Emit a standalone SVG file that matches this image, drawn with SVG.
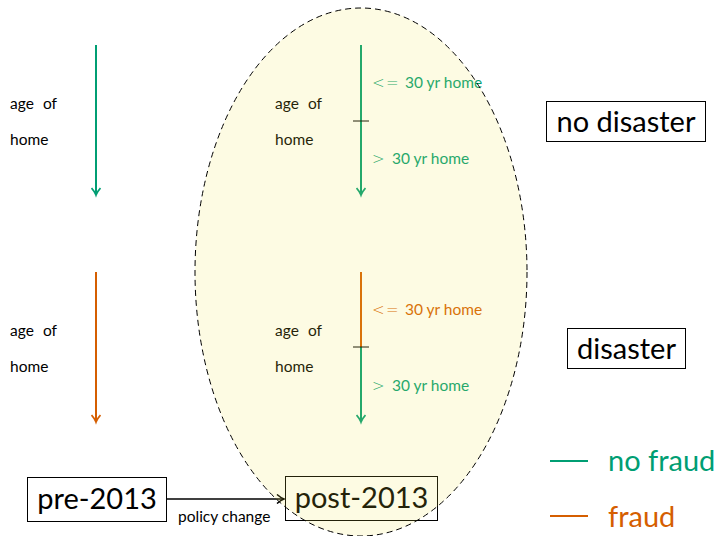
<svg xmlns="http://www.w3.org/2000/svg" width="716" height="536" viewBox="0 0 716 536">
<defs>
<marker id="ag" viewBox="0 0 12 10" refX="8" refY="5" markerWidth="12" markerHeight="10" markerUnits="userSpaceOnUse" orient="auto"><path d="M1,0.5 Q5,4 8,5 Q5,6 1,9.5" fill="none" stroke="#009E73" stroke-width="1.8"/></marker>
<marker id="ao" viewBox="0 0 12 10" refX="8" refY="5" markerWidth="12" markerHeight="10" markerUnits="userSpaceOnUse" orient="auto"><path d="M1,0.5 Q5,4 8,5 Q5,6 1,9.5" fill="none" stroke="#D55E00" stroke-width="1.8"/></marker>
<marker id="ak" viewBox="0 0 12 10" refX="8" refY="5" markerWidth="12" markerHeight="10" markerUnits="userSpaceOnUse" orient="auto"><path d="M1,0.5 Q5,4 8,5 Q5,6 1,9.5" fill="none" stroke="#000" stroke-width="1.5"/></marker>
</defs>
<style>
text{font-family:Lato,"Open Sans","Liberation Sans",sans-serif}
.s{font-size:15.5px;fill:#000}
.g{stroke:#009E73;stroke-width:2;fill:none}
.o{stroke:#D55E00;stroke-width:2;fill:none}
.gt{font-size:15.5px;fill:#009E73}
.ot{font-size:15.5px;fill:#D55E00}
.m{font-family:"DejaVu Sans",sans-serif;font-size:15px;font-weight:200}
.big{font-size:29px;fill:#000}
.box{fill:#fff;stroke:#000;stroke-width:1}
.tick{stroke:#000;stroke-width:1}
</style>
<rect width="716" height="536" fill="#fff"/>
<g id="connectors">
<line class="g" x1="96" y1="45" x2="96" y2="195" marker-end="url(#ag)"/>
<line class="o" x1="96" y1="272" x2="96" y2="422" marker-end="url(#ao)"/>
<line class="g" x1="361" y1="45" x2="361" y2="195" marker-end="url(#ag)"/>
<line class="tick" x1="353" y1="121" x2="369" y2="121"/>
<line class="o" x1="361" y1="272" x2="361" y2="347"/>
<line class="g" x1="361" y1="347" x2="361" y2="422" marker-end="url(#ag)"/>
<line class="tick" x1="353" y1="347" x2="369" y2="347"/>
<line x1="166" y1="499" x2="284" y2="499" stroke="#000" stroke-width="1.6" marker-end="url(#ak)"/>
</g>
<g id="labels-left">
<text class="s" x="10" y="109">age<tspan x="43">of</tspan></text>
<text class="s" x="10" y="145">home</text>
<text class="s" x="10" y="336">age<tspan x="43">of</tspan></text>
<text class="s" x="10" y="372">home</text>
</g>
<g id="labels-mid">
<text class="s" x="275" y="109">age<tspan x="308">of</tspan></text>
<text class="s" x="275" y="145">home</text>
<text class="s" x="275" y="336">age<tspan x="308">of</tspan></text>
<text class="s" x="275" y="372">home</text>
<text class="gt" x="372" y="88"><tspan class="m">&lt;</tspan><tspan class="m" x="386">=</tspan><tspan x="405">30 yr home</tspan></text>
<text class="gt" x="372" y="164"><tspan class="m">&gt;</tspan><tspan x="392">30 yr home</tspan></text>
<text class="ot" x="372" y="315"><tspan class="m">&lt;</tspan><tspan class="m" x="386">=</tspan><tspan x="405">30 yr home</tspan></text>
<text class="gt" x="372" y="391"><tspan class="m">&gt;</tspan><tspan x="392">30 yr home</tspan></text>
</g>
<g id="no-disaster">
<rect class="box" x="546.5" y="101.5" width="159" height="40"/>
<text class="big" x="626" y="132" text-anchor="middle">no disaster</text>
</g>
<g id="disaster">
<rect class="box" x="567.5" y="328.5" width="118" height="40"/>
<text class="big" x="626.5" y="359" text-anchor="middle">disaster</text>
</g>
<g id="pre-2013">
<rect class="box" x="27.5" y="477.5" width="139" height="44"/>
<text class="big" x="97" y="509" text-anchor="middle">pre-2013</text>
</g>
<g id="post-2013">
<rect class="box" x="285.5" y="476.5" width="152" height="44"/>
<text class="big" x="361.5" y="508" text-anchor="middle">post-2013</text>
</g>
<text class="s" x="178" y="522">policy change</text>
<g id="ellipse">
<ellipse cx="361" cy="272" rx="166" ry="264" fill="#F0E442" fill-opacity="0.15" stroke="#000" stroke-width="1" stroke-dasharray="6,4"/>
</g>
<g id="legend">
<line class="g" x1="550" y1="461" x2="588" y2="461"/>
<text x="608" y="471" style="font-size:29px;fill:#009E73">no fraud</text>
<line class="o" x1="550" y1="516" x2="588" y2="516"/>
<text x="608" y="527" style="font-size:29px;fill:#D55E00">fraud</text>
</g>
</svg>
